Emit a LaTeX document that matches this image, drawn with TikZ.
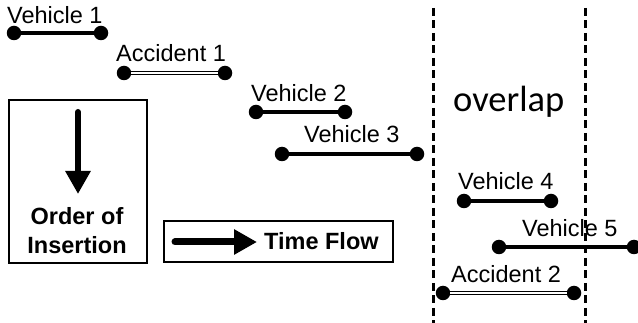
\documentclass[tikz,border=0pt]{standalone}
\usepackage{fontspec}
\setmainfont{Liberation Sans}
\newfontfamily\overlapfont{Carlito}
\usetikzlibrary{arrows.meta}
\tikzset{
  dot/.style={circle,fill=black,inner sep=0pt,minimum size=14.5pt},
  seg/.style={line width=4.6pt},
  dseg/.style={line width=1.6pt,double=white,double distance=1.6pt},
  lbl/.style={anchor=base west,inner sep=0pt,font=\fontsize{23.5}{27}\selectfont},
  boldlbl/.style={inner sep=0pt,font=\fontsize{23.5}{29}\selectfont\bfseries},
  frame/.style={draw,line width=2pt,inner sep=0pt},
  bigarrow/.style={line cap=round,-{Triangle[length=23pt,width=24pt]}},
  window/.style={line width=3pt,dash pattern=on 8pt off 4.5pt}
}
\begin{document}
\begin{tikzpicture}[x=1pt,y=-1pt]
\useasboundingbox (0,0) rectangle (638,323);

% overlap window
\coordinate (wla) at (433,8);
\coordinate (wlb) at (433,323);
\coordinate (wra) at (585,8);
\coordinate (wrb) at (585,323);
\draw[window] (wla) -- (wlb);
\draw[window] (wra) -- (wrb);
\node[anchor=base west,inner sep=0pt,font=\overlapfont\fontsize{36.5}{40}\selectfont] (ovl) at (453,112) {overlap};

% intervals
\node[dot] (v1a) at (14,33) {};
\node[dot] (v1b) at (101,33) {};
\draw[seg] (v1a) -- (v1b);
\node[lbl] (v1t) at (7,24) {Vehicle 1};

\node[dot] (a1a) at (124,73) {};
\node[dot] (a1b) at (225,73) {};
\draw[dseg] (a1a) -- (a1b);
\node[lbl] (a1t) at (116,62) {Accident 1};

\node[dot] (v2a) at (256,112) {};
\node[dot] (v2b) at (345,112) {};
\draw[seg] (v2a) -- (v2b);
\node[lbl] (v2t) at (251,102) {Vehicle 2};

\node[dot] (v3a) at (282,154) {};
\node[dot] (v3b) at (417,154) {};
\draw[seg] (v3a) -- (v3b);
\node[lbl] (v3t) at (304,143) {Vehicle 3};

\node[dot] (v4a) at (464,201) {};
\node[dot] (v4b) at (551,201) {};
\draw[seg] (v4a) -- (v4b);
\node[lbl] (v4t) at (458,190) {Vehicle 4};

\node[dot] (v5a) at (499,247) {};
\node[dot] (v5b) at (634,247) {};
\draw[seg] (v5a) -- (v5b);
\node[lbl] (v5t) at (522,237) {Vehicle 5};

\node[dot] (a2a) at (443,293) {};
\node[dot] (a2b) at (574,293) {};
\draw[dseg] (a2a) -- (a2b);
\node[lbl] (a2t) at (451,283) {Accident 2};

% legend: order of insertion
\node[frame,minimum width=138pt,minimum height=163pt] (ordbox) at (78,181.5) {};
\coordinate (ordtop) at (78,112);
\coordinate (ordtip) at (78,194);
\draw[bigarrow,line width=6pt] (ordtop) -- (ordtip);
\node[boldlbl,align=center] (ordtxt) at (77,231) {Order of\\Insertion};

% legend: time flow
\node[frame,minimum width=229pt,minimum height=41pt] (timebox) at (278.5,241.5) {};
\coordinate (timel) at (175,242);
\coordinate (timer) at (257,242);
\draw[bigarrow,line width=7pt] (timel) -- (timer);
\node[boldlbl,anchor=base west] (timetxt) at (264,250) {Time Flow};
\end{tikzpicture}
\end{document}
